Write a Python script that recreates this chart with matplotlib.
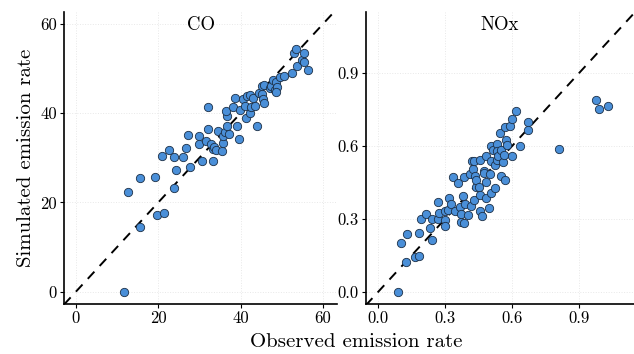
import matplotlib
matplotlib.use("Agg")
import matplotlib.pyplot as plt

# CO: observed vs simulated
co_obs = [11.7, 12.7, 15.6, 15.6, 19.2, 19.6, 21.5, 20.8, 22.6, 23.9,
          23.8, 24.3, 26.1, 26.7, 27.2, 27.7, 29.9, 30.0, 30.6, 31.5,
          32.2, 32.1, 32.8, 33.4, 33.6, 33.4, 34.0, 34.5, 35.4, 35.8,
          35.8, 36.3, 36.7, 36.7, 36.5, 37.3, 38.1, 38.7, 39.1, 39.5,
          39.9, 40.6, 41.1, 41.3, 41.5, 42.2, 42.3, 42.5, 43.4, 43.1,
          44.0, 44.4, 45.2, 45.4, 45.6, 45.2, 45.7, 47.2, 47.4, 47.8,
          48.4, 48.7, 48.8, 48.6, 49.5, 50.6, 52.6, 52.9, 53.4, 53.7,
          54.9, 55.3, 55.5, 56.3]
co_sim = [0.0, 22.3, 25.4, 14.6, 25.7, 17.1, 17.6, 30.5, 31.7, 30.3,
          23.3, 27.3, 30.3, 32.2, 35.1, 27.9, 34.8, 33.1, 29.4, 33.7,
          41.5, 36.4, 33.1, 32.0, 32.5, 29.4, 31.8, 36.1, 31.6, 33.3,
          34.8, 35.8, 37.2, 39.4, 40.5, 35.3, 41.5, 43.5, 37.2, 34.2,
          40.8, 43.2, 41.7, 38.9, 43.8, 44.1, 40.0, 41.4, 41.7, 43.5,
          37.2, 44.5, 44.3, 43.2, 42.3, 46.2, 46.4, 45.6, 46.1, 47.5,
          45.3, 46.9, 45.8, 44.7, 48.2, 48.4, 49.0, 53.5, 54.5, 50.5,
          52.0, 51.4, 53.5, 49.7]

# NOx: observed vs simulated
nox_obs = [0.090, 0.101, 0.130, 0.127, 0.164, 0.184, 0.182, 0.194, 0.216, 0.234,
           0.243, 0.243, 0.266, 0.269, 0.272, 0.299, 0.300, 0.301, 0.313, 0.318,
           0.328, 0.336, 0.343, 0.358, 0.366, 0.370, 0.373, 0.378, 0.385, 0.385,
           0.388, 0.403, 0.410, 0.415, 0.418, 0.425, 0.428, 0.430, 0.433, 0.437,
           0.440, 0.452, 0.455, 0.458, 0.458, 0.466, 0.473, 0.473, 0.482, 0.485,
           0.485, 0.500, 0.497, 0.503, 0.507, 0.507, 0.515, 0.522, 0.522, 0.530,
           0.530, 0.533, 0.537, 0.545, 0.551, 0.552, 0.557, 0.563, 0.567, 0.567,
           0.572, 0.575, 0.590, 0.597, 0.601, 0.619, 0.637, 0.672, 0.672, 0.809,
           0.975, 0.988, 1.030]
nox_sim = [0.000, 0.203, 0.240, 0.121, 0.144, 0.149, 0.242, 0.301, 0.322, 0.262,
           0.299, 0.215, 0.299, 0.368, 0.325, 0.333, 0.297, 0.270, 0.338, 0.385,
           0.363, 0.473, 0.333, 0.449, 0.349, 0.288, 0.322, 0.393, 0.473, 0.284,
           0.360, 0.315, 0.484, 0.353, 0.538, 0.507, 0.377, 0.538, 0.477, 0.432,
           0.459, 0.432, 0.397, 0.544, 0.333, 0.312, 0.497, 0.489, 0.384, 0.559,
           0.452, 0.484, 0.345, 0.599, 0.538, 0.407, 0.585, 0.523, 0.429, 0.607,
           0.579, 0.544, 0.559, 0.651, 0.582, 0.477, 0.534, 0.562, 0.459, 0.678,
           0.623, 0.603, 0.681, 0.712, 0.559, 0.744, 0.600, 0.699, 0.667, 0.586,
           0.788, 0.753, 0.763]

co_ticks = [0, 20, 40, 60]
co_ticklabels = ["0", "20", "40", "60"]
nox_ticks = [0.0, 0.3, 0.6, 0.9]
nox_ticklabels = ["0.0", "0.3", "0.6", "0.9"]

plt.rcParams['font.family'] = ['cmr10', 'DejaVu Serif']
plt.rcParams['axes.formatter.use_mathtext'] = True

fig = plt.figure(figsize=(6.34, 3.54), dpi=100)
ax1 = fig.add_axes([0.101, 0.141, 0.431, 0.825])
ax2 = fig.add_axes([0.577, 0.141, 0.423, 0.825])

dot_color = '#4a8fd8'
edge_color = '#1c2f46'

panels = [
    (ax1, co_obs, co_sim, "CO", (-2.9, 63.5), (-2.8, 62.7), co_ticks, co_ticklabels),
    (ax2, nox_obs, nox_sim, "NOx", (-0.055, 1.145), (-0.05, 1.15), nox_ticks, nox_ticklabels),
]

for ax, xs, ys, name, xl, yl, ticks, labels in panels:
    ax.set_xlim(xl)
    ax.set_ylim(yl)
    ax.grid(True, color='#e8e8e8', linestyle=':', linewidth=0.7)
    ax.set_axisbelow(True)
    # 1:1 reference line across the whole panel
    lo = min(xl[0], yl[0])
    hi = max(xl[1], yl[1])
    ax.plot([lo, hi], [lo, hi], color='black', linestyle=(0, (5, 4)),
            linewidth=1.4, zorder=2)
    ax.scatter(xs, ys, s=36, color=dot_color, edgecolor=edge_color,
               linewidth=0.6, zorder=3)
    ax.set_xticks(ticks)
    ax.set_xticklabels(labels)
    ax.set_yticks(ticks)
    ax.set_yticklabels(labels)
    ax.tick_params(labelsize=12, length=3, width=0.8, pad=2)
    for side in ['top', 'right']:
        ax.spines[side].set_visible(False)
    for side in ['left', 'bottom']:
        ax.spines[side].set_linewidth(1.2)
    ax.text(0.5, 0.985, name, transform=ax.transAxes, ha='center', va='top',
            fontsize=13.5)

ax1.set_ylabel("Simulated emission rate", fontsize=15, labelpad=4)
fig.text(356 / 634, 0.035, "Observed emission rate", ha='center',
         va='center', fontsize=15)

fig.savefig("out.png", dpi=100)
